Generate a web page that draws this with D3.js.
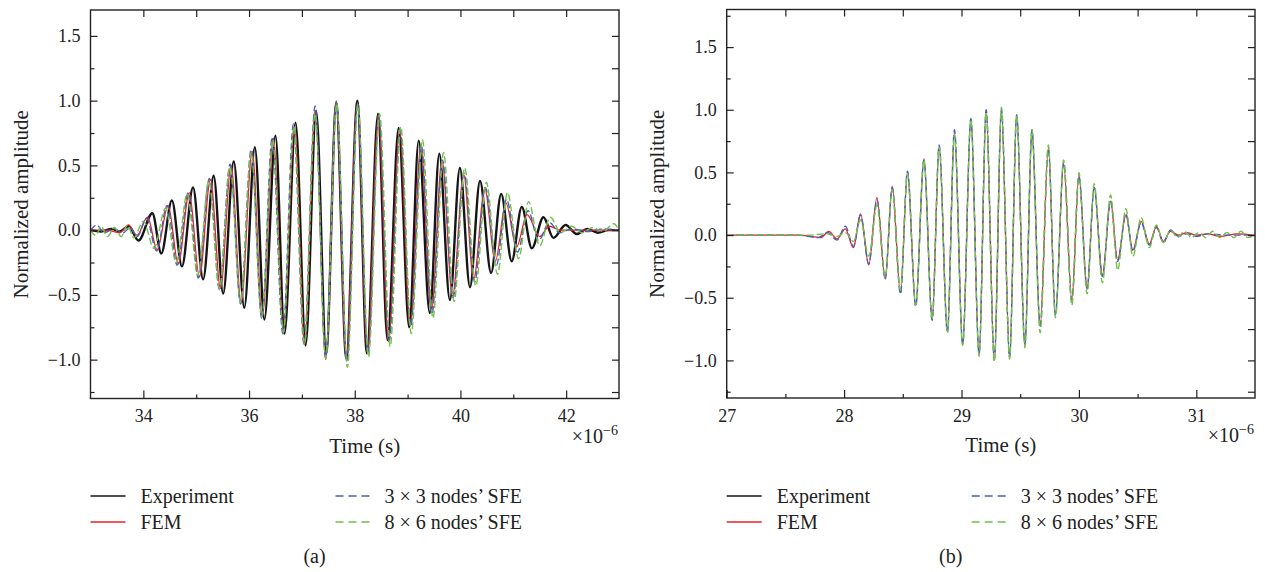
<!DOCTYPE html>
<html>
<head>
<meta charset="utf-8">
<script src="https://cdn.jsdelivr.net/npm/d3@7/dist/d3.min.js"></script>
<style>
  body { margin: 0; background: #fff; }
</style>
</head>
<body>
<script>
// Tick labels
var yTickValues = [-1.0, -0.5, 0.0, 0.5, 1.0, 1.5];
var aXTickValues = [34, 36, 38, 40, 42];
var bXTickValues = [27, 28, 29, 30, 31];

var legendLabels = ["Experiment", "FEM", "3 \u00d7 3 nodes\u2019 SFE", "8 \u00d7 6 nodes\u2019 SFE"];
var seriesColors = ["#151515", "#ec2027", "#4561b5", "#72c04c"];

// Panel (a): [time (us), normalized amplitude], read at the peaks and troughs
var aExperiment = [
  [33.00, 0.00], [33.20, -0.01], [33.40, 0.01], [33.55, -0.01], [33.72, 0.03], [33.91, -0.08],
  [34.17, 0.13], [34.34, -0.18], [34.54, 0.23], [34.73, -0.28], [34.94, 0.33], [35.13, -0.38],
  [35.33, 0.42], [35.51, -0.49], [35.71, 0.53], [35.91, -0.60], [36.11, 0.64], [36.29, -0.69],
  [36.50, 0.73], [36.67, -0.80], [36.88, 0.83], [37.07, -0.89], [37.27, 0.92], [37.46, -0.95],
  [37.65, 0.98], [37.84, -0.99], [38.05, 1.00], [38.23, -0.95], [38.44, 0.90], [38.62, -0.85],
  [38.83, 0.79], [39.03, -0.75], [39.21, 0.69], [39.42, -0.64], [39.60, 0.59], [39.80, -0.54],
  [39.99, 0.48], [40.18, -0.44], [40.37, 0.38], [40.58, -0.33], [40.77, 0.28], [40.97, -0.24],
  [41.16, 0.18], [41.35, -0.14], [41.57, 0.10], [41.76, -0.06], [41.99, 0.04], [42.20, -0.03],
  [42.40, 0.01], [42.60, -0.02], [42.80, 0.00], [43.00, 0.00]
];
var aFem = [
  [33.00, 0.00], [33.30, 0.00], [33.55, -0.02], [33.72, 0.04], [33.88, -0.04], [34.08, 0.10],
  [34.26, -0.15], [34.47, 0.19], [34.66, -0.26], [34.87, 0.29], [35.06, -0.36], [35.27, 0.39],
  [35.46, -0.45], [35.66, 0.50], [35.85, -0.56], [36.06, 0.61], [36.25, -0.67], [36.46, 0.71],
  [36.65, -0.78], [36.86, 0.80], [37.05, -0.88], [37.25, 0.92], [37.45, -1.00], [37.65, 1.00],
  [37.84, -0.99], [38.05, 0.98], [38.24, -0.94], [38.45, 0.88], [38.64, -0.86], [38.85, 0.77],
  [39.05, -0.74], [39.25, 0.65], [39.45, -0.63], [39.65, 0.54], [39.85, -0.51], [40.06, 0.43],
  [40.25, -0.38], [40.46, 0.32], [40.66, -0.24], [40.86, 0.21], [41.06, -0.13], [41.26, 0.12],
  [41.50, -0.05], [41.68, 0.03], [41.90, 0.00], [42.20, 0.00], [43.00, 0.00]
];
var aSfe3x3 = [
  [33.00, 0.00], [33.12, 0.04], [33.25, -0.02], [33.45, 0.01], [33.62, -0.02], [33.75, 0.02],
  [33.88, -0.05], [34.06, 0.09], [34.25, -0.16], [34.45, 0.19], [34.64, -0.27], [34.85, 0.29],
  [35.04, -0.37], [35.25, 0.40], [35.44, -0.46], [35.64, 0.51], [35.84, -0.57], [36.04, 0.62],
  [36.24, -0.68], [36.44, 0.72], [36.64, -0.80], [36.84, 0.82], [37.04, -0.88], [37.25, 0.96],
  [37.45, -0.98], [37.65, 0.99], [37.85, -1.01], [38.05, 0.98], [38.25, -0.95], [38.46, 0.87],
  [38.65, -0.86], [38.86, 0.77], [39.06, -0.74], [39.26, 0.65], [39.46, -0.65], [39.66, 0.54],
  [39.86, -0.52], [40.07, 0.44], [40.27, -0.40], [40.47, 0.33], [40.68, -0.27], [40.87, 0.24],
  [41.08, -0.17], [41.28, 0.15], [41.48, -0.08], [41.68, 0.06], [41.88, -0.02], [42.10, 0.01],
  [42.40, -0.01], [42.70, 0.01], [43.00, 0.00]
];
var aSfe8x6 = [
  [33.00, 0.00], [33.10, -0.04], [33.20, 0.03], [33.32, -0.05], [33.45, 0.02], [33.58, -0.05],
  [33.70, 0.04], [33.82, -0.06], [34.00, 0.07], [34.20, -0.14], [34.42, 0.17], [34.62, -0.25],
  [34.83, 0.28], [35.03, -0.35], [35.24, 0.38], [35.44, -0.45], [35.64, 0.49], [35.84, -0.56],
  [36.04, 0.60], [36.24, -0.67], [36.45, 0.70], [36.65, -0.79], [36.85, 0.80], [37.05, -0.88],
  [37.25, 0.90], [37.45, -0.99], [37.66, 0.98], [37.86, -1.06], [38.06, 0.97], [38.26, -0.98],
  [38.47, 0.90], [38.67, -0.90], [38.87, 0.80], [39.07, -0.80], [39.28, 0.70], [39.48, -0.68],
  [39.68, 0.60], [39.88, -0.55], [40.08, 0.48], [40.29, -0.43], [40.49, 0.37], [40.70, -0.34],
  [40.89, 0.29], [41.10, -0.22], [41.29, 0.22], [41.50, -0.12], [41.70, 0.10], [41.90, -0.02],
  [42.10, 0.03], [42.30, -0.02], [42.50, 0.02], [42.70, -0.01], [42.90, 0.05], [43.00, 0.00]
];

// Panel (b)
var bFem = [
  [27.00, 0.00], [27.60, 0.00], [27.72, -0.01], [27.80, -0.02], [27.87, 0.03], [27.94, -0.03],
  [28.01, 0.05], [28.08, -0.10], [28.14, 0.17], [28.21, -0.24], [28.28, 0.30], [28.35, -0.35],
  [28.41, 0.39], [28.48, -0.46], [28.54, 0.50], [28.61, -0.56], [28.68, 0.61], [28.75, -0.67],
  [28.81, 0.71], [28.88, -0.77], [28.94, 0.83], [29.01, -0.88], [29.08, 0.92], [29.15, -0.97],
  [29.21, 0.99], [29.28, -1.00], [29.34, 0.99], [29.41, -0.98], [29.47, 0.95], [29.54, -0.88],
  [29.60, 0.80], [29.67, -0.73], [29.74, 0.70], [29.80, -0.64], [29.87, 0.57], [29.94, -0.52],
  [30.00, 0.48], [30.07, -0.42], [30.13, 0.38], [30.20, -0.32], [30.27, 0.27], [30.33, -0.20],
  [30.40, 0.16], [30.46, -0.12], [30.53, 0.11], [30.60, -0.07], [30.66, 0.07], [30.72, -0.05],
  [30.78, 0.03], [30.85, 0.00], [30.92, 0.02], [31.00, 0.00], [31.10, 0.01], [31.20, -0.01],
  [31.35, 0.01], [31.50, 0.00]
];
var bSfe3x3 = [
  [27.00, 0.00], [27.60, 0.00], [27.78, -0.02], [27.86, 0.02], [27.94, -0.04], [28.01, 0.07],
  [28.08, -0.09], [28.14, 0.16], [28.21, -0.23], [28.28, 0.28], [28.35, -0.35], [28.41, 0.38],
  [28.48, -0.47], [28.54, 0.51], [28.61, -0.57], [28.68, 0.60], [28.75, -0.68], [28.81, 0.72],
  [28.88, -0.78], [28.94, 0.84], [29.01, -0.87], [29.08, 0.93], [29.15, -0.95], [29.21, 1.00],
  [29.28, -0.99], [29.34, 1.00], [29.41, -0.97], [29.47, 0.96], [29.54, -0.87], [29.60, 0.84],
  [29.67, -0.72], [29.74, 0.69], [29.80, -0.63], [29.87, 0.58], [29.94, -0.52], [30.00, 0.47],
  [30.07, -0.43], [30.13, 0.38], [30.20, -0.33], [30.27, 0.27], [30.33, -0.21], [30.40, 0.17],
  [30.46, -0.13], [30.53, 0.10], [30.60, -0.08], [30.66, 0.06], [30.72, -0.06], [30.78, 0.04],
  [30.85, -0.01], [30.92, 0.01], [31.00, -0.01], [31.10, 0.01], [31.25, 0.00], [31.50, 0.00]
];
var bSfe8x6 = [
  [27.00, 0.00], [27.70, 0.00], [27.85, 0.01], [27.94, -0.01], [28.01, 0.02], [28.08, -0.05],
  [28.14, 0.12], [28.21, -0.17], [28.28, 0.24], [28.35, -0.33], [28.41, 0.36], [28.48, -0.44],
  [28.54, 0.49], [28.61, -0.56], [28.68, 0.60], [28.75, -0.67], [28.81, 0.70], [28.88, -0.77],
  [28.94, 0.80], [29.01, -0.88], [29.08, 0.92], [29.15, -0.96], [29.21, 0.98], [29.28, -1.01],
  [29.34, 1.02], [29.41, -0.99], [29.47, 0.96], [29.54, -0.90], [29.60, 0.84], [29.67, -0.78],
  [29.74, 0.72], [29.80, -0.66], [29.87, 0.60], [29.94, -0.56], [30.00, 0.50], [30.07, -0.47],
  [30.13, 0.41], [30.20, -0.38], [30.27, 0.32], [30.33, -0.28], [30.40, 0.21], [30.46, -0.17],
  [30.53, 0.14], [30.60, -0.10], [30.66, 0.08], [30.72, -0.06], [30.78, 0.04], [30.84, -0.02],
  [30.90, 0.03], [30.96, -0.02], [31.02, 0.02], [31.08, -0.02], [31.14, 0.03], [31.20, -0.02],
  [31.26, 0.02], [31.32, -0.02], [31.38, 0.03], [31.44, -0.02], [31.50, 0.01]
];

var serifFont = "'Liberation Serif', 'Times New Roman', Times, serif";

var svgWidth = 1265;
var svgHeight = 572;

var svg = d3.select("body")
  .append("svg")
  .attr("width", svgWidth)
  .attr("height", svgHeight)
  .style("display", "block")
  .attr("font-family", serifFont);

function drawPanel(p) {
  var x = d3.scaleLinear().domain(p.xDomain).range([p.left, p.right]);
  var y = d3.scaleLinear().domain(p.yDomain).range([p.bottom, p.top]);
  var h = p.bottom - p.top;
  var w = p.right - p.left;

  var g = svg.append("g");

  g.append("clipPath")
    .attr("id", "clip-" + p.id)
    .append("rect")
    .attr("x", p.left).attr("y", p.top)
    .attr("width", w).attr("height", h);

  // Curves
  var line = d3.line()
    .x(d => x(d[0]))
    .y(d => y(d[1]))
    .curve(d3.curveMonotoneX);

  var curves = g.append("g").attr("clip-path", "url(#clip-" + p.id + ")");
  p.series.forEach(function(s) {
    curves.append("path")
      .datum(s.data)
      .attr("d", line)
      .attr("fill", "none")
      .attr("stroke", seriesColors[s.idx])
      .attr("stroke-width", s.width)
      .attr("stroke-dasharray", s.dash)
      .attr("stroke-linejoin", "round");
  });

  // Axes (ticks point inward)
  function styleAxis(sel) {
    sel.attr("font-family", serifFont).attr("font-size", 18);
    sel.select(".domain").remove();
    sel.selectAll(".tick line").attr("stroke", "#222").attr("stroke-width", 1.2);
    sel.selectAll(".tick text").attr("fill", "#222").style("font-family", serifFont);
  }

  g.append("g")
    .attr("transform", `translate(0, ${p.bottom})`)
    .call(d3.axisBottom(x).tickValues(p.xTicks).tickSizeInner(-8).tickSizeOuter(0).tickPadding(11).tickFormat(d3.format("d")))
    .call(styleAxis);
  g.append("g")
    .attr("transform", `translate(0, ${p.bottom})`)
    .call(d3.axisBottom(x).tickValues(p.xMinor).tickSizeInner(-4).tickSizeOuter(0).tickFormat(""))
    .call(styleAxis);
  g.append("g")
    .attr("transform", `translate(0, ${p.top})`)
    .call(d3.axisTop(x).tickValues(p.xTop).tickSizeInner(-7).tickSizeOuter(0).tickFormat(""))
    .call(styleAxis);

  g.append("g")
    .attr("transform", `translate(${p.left}, 0)`)
    .call(d3.axisLeft(y).tickValues(yTickValues).tickSizeInner(-7).tickSizeOuter(0).tickPadding(10).tickFormat(d3.format(".1f")))
    .call(styleAxis);
  g.append("g")
    .attr("transform", `translate(${p.left}, 0)`)
    .call(d3.axisLeft(y).tickValues(p.yMinor).tickSizeInner(-4).tickSizeOuter(0).tickFormat(""))
    .call(styleAxis);
  g.append("g")
    .attr("transform", `translate(${p.right}, 0)`)
    .call(d3.axisRight(y).tickValues(p.yRight).tickSizeInner(-7).tickSizeOuter(0).tickFormat(""))
    .call(styleAxis);

  // Frame
  g.append("rect")
    .attr("x", p.left).attr("y", p.top)
    .attr("width", w).attr("height", h)
    .attr("fill", "none")
    .attr("stroke", "#222")
    .attr("stroke-width", 1.4);

  // Axis titles
  g.append("text")
    .attr("transform", `translate(${p.left - 63}, ${p.top + h / 2}) rotate(-90)`)
    .attr("text-anchor", "middle")
    .attr("font-size", 21)
    .attr("fill", "#222")
    .style("font-family", serifFont)
    .text("Normalized amplitude");

  g.append("text")
    .attr("x", p.left + w / 2 + 10)
    .attr("y", p.bottom + 54)
    .attr("text-anchor", "middle")
    .attr("font-size", 21)
    .attr("fill", "#222")
    .style("font-family", serifFont)
    .text("Time (s)");

  var mult = g.append("text")
    .attr("x", p.right - 1)
    .attr("y", p.bottom + 44)
    .attr("text-anchor", "end")
    .attr("font-size", 20)
    .attr("fill", "#222")
    .style("font-family", serifFont);
  mult.append("tspan").text("\u00d710");
  mult.append("tspan").attr("dy", -8).attr("font-size", 14).text("\u22126");

  // Legend
  var rows = [
    { idx: 0, col: 0, row: 0, dash: null },
    { idx: 1, col: 0, row: 1, dash: null },
    { idx: 2, col: 1, row: 0, dash: "8,5" },
    { idx: 3, col: 1, row: 1, dash: "8,5" }
  ];
  rows.forEach(function(r) {
    var lx = p.left + (r.col === 0 ? 0 : 245);
    var ly = 496 + r.row * 26;
    g.append("line")
      .attr("x1", lx).attr("x2", lx + 35)
      .attr("y1", ly).attr("y2", ly)
      .attr("stroke", seriesColors[r.idx])
      .attr("stroke-width", 1.5)
      .attr("stroke-dasharray", r.dash);
    g.append("text")
      .attr("x", lx + (r.col === 0 ? 50 : 49))
      .attr("y", ly + 6.5)
      .attr("font-size", 20)
      .attr("fill", "#222")
      .style("font-family", serifFont)
      .text(legendLabels[r.idx]);
  });

  g.append("text")
    .attr("x", p.left + 224)
    .attr("y", 563)
    .attr("text-anchor", "middle")
    .attr("font-size", 20)
    .attr("fill", "#222")
    .style("font-family", serifFont)
    .text(p.caption);
}

drawPanel({
  id: "a",
  left: 90.5, right: 619, top: 10, bottom: 398.5,
  xDomain: [33, 43], yDomain: [-1.3, 1.7],
  xTicks: aXTickValues,
  xMinor: [35, 37, 39, 41],
  xTop: [34, 35, 36, 37, 38, 39, 40, 41, 42],
  yMinor: [-1.25, -0.75, -0.25, 0.25, 0.75, 1.25],
  yRight: [-1.25, -1.0, -0.75, -0.5, -0.25, 0, 0.25, 0.5, 0.75, 1.0, 1.25, 1.5],
  caption: "(a)",
  series: [
    { idx: 0, data: aExperiment, width: 2.4, dash: null },
    { idx: 1, data: aFem, width: 1.3, dash: null },
    { idx: 2, data: aSfe3x3, width: 1.4, dash: "7,3" },
    { idx: 3, data: aSfe8x6, width: 1.4, dash: "7,3" }
  ]
});

drawPanel({
  id: "b",
  left: 726.7, right: 1255, top: 9.5, bottom: 398,
  xDomain: [27, 31.5], yDomain: [-1.3, 1.8],
  xTicks: bXTickValues,
  xMinor: [27.5, 28.5, 29.5, 30.5],
  xTop: [27.5, 28, 28.5, 29, 29.5, 30, 30.5, 31],
  yMinor: [-1.25, -0.75, -0.25, 0.25, 0.75, 1.25, 1.75],
  yRight: [-1.25, -1.0, -0.75, -0.5, -0.25, 0, 0.25, 0.5, 0.75, 1.0, 1.25, 1.5, 1.75],
  caption: "(b)",
  series: [
    { idx: 1, data: bFem, width: 1.3, dash: null },
    { idx: 2, data: bSfe3x3, width: 1.4, dash: "7,3" },
    { idx: 3, data: bSfe8x6, width: 1.4, dash: "7,3" }
  ]
});
</script>
</body>
</html>
